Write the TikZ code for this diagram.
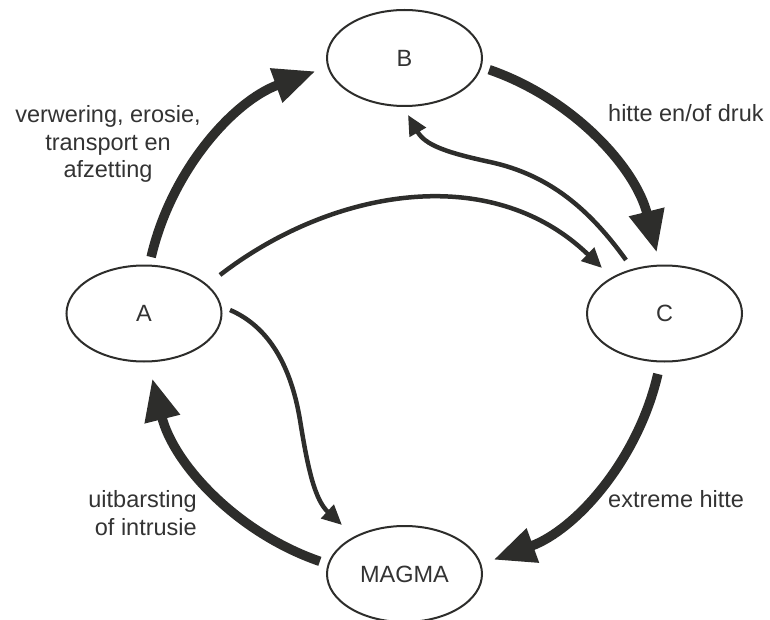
\documentclass[tikz,border=0pt]{standalone}
\usepackage{fontspec}
\setmainfont{Liberation Sans}
\usetikzlibrary{arrows.meta,shapes.geometric,calc}
\definecolor{ink}{HTML}{2D2D2B}
\definecolor{txt}{HTML}{333333}
\begin{document}
\begin{tikzpicture}[x=1pt,y=-1pt,
  state/.style={ellipse, draw=ink, line width=2pt, minimum width=155pt, minimum height=96pt,
    inner sep=0pt, font=\fontsize{23.5}{27.5}\selectfont, text=txt},
  lbl/.style={font=\fontsize{23.5}{27.5}\selectfont, text=txt, inner sep=0pt},
  cyc/.style={draw=ink, line width=9.5pt, -{Triangle[length=42pt,width=34pt]}},
  thn/.style={draw=ink, line width=4.5pt, -{Triangle[length=20pt,width=18pt]}}
]
\useasboundingbox (0,0) rectangle (770,620);

\node[state] (A) at (144,313.5) {A};
\node[state] (B) at (404.5,58) {B};
\node[state] (C) at (664.5,313.5) {C};
\node[state] (M) at (404.5,574) {MAGMA};

\coordinate (O) at (404.5,315.5);
\coordinate (ab) at ($(O)+(-167:260)$);
\coordinate (bc) at ($(O)+(-71:260)$);
\coordinate (cm) at ($(O)+(13:260)$);
\coordinate (ma) at ($(O)+(109:260)$);

\draw[cyc] (ab) arc[start angle=-167, end angle=-110, radius=260];
\draw[cyc] (bc) arc[start angle=-71, end angle=-14, radius=260];
\draw[cyc] (cm) arc[start angle=13, end angle=70, radius=260];
\draw[cyc] (ma) arc[start angle=109, end angle=166, radius=260];

\coordinate (a1) at (220,275);
\coordinate (c1) at (602,268);
\coordinate (c2) at (626,260);
\coordinate (b2) at (408,115);
\coordinate (a3) at (230,310);
\coordinate (m3) at (342,525);

\draw[thn] (a1) .. controls (330,190) and (490,160) .. (c1);
\draw[thn] (c2) .. controls (590,210) and (550,175) .. (490,162)
               .. controls (446,152.5) and (425,145) .. (b2);
\draw[thn] (a3) .. controls (265,325) and (290,360) .. (300,420)
               .. controls (308,470) and (315,500) .. (m3);

\node[lbl, align=center, anchor=base] (t1) at (108,178) {verwering, erosie,\\transport en\\afzetting};
\node[lbl, anchor=base west] (t2) at (608,122) {hitte en/of druk};
\node[lbl, anchor=base west] (t3) at (608,507) {extreme hitte};
\node[lbl, align=right, anchor=base east] (t4) at (197,535) {uitbarsting\\of intrusie};
\end{tikzpicture}
\end{document}
